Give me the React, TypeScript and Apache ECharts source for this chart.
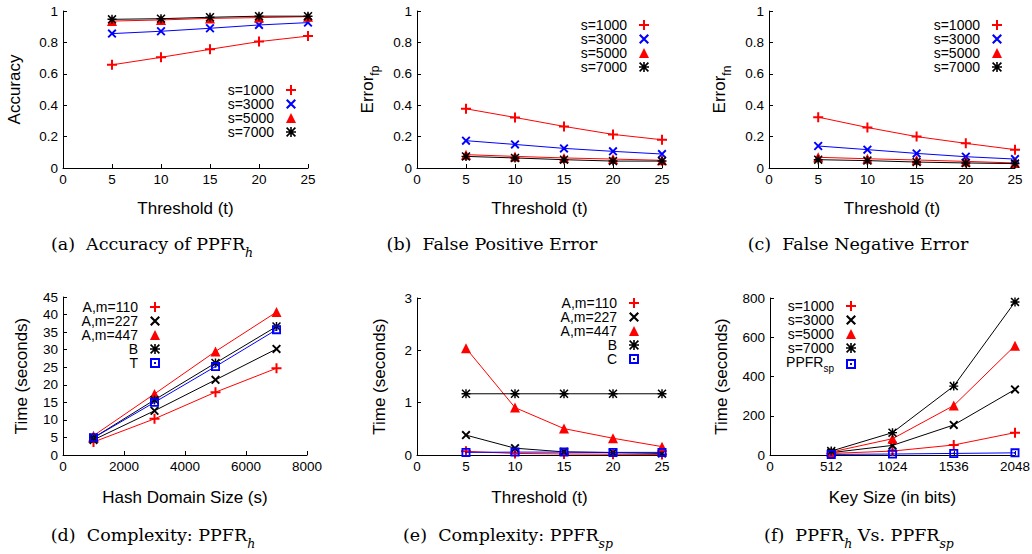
import React, { useEffect, useRef } from "react";
import * as echarts from "echarts";

// ---------- data ----------
const thresholds = [5, 10, 15, 20, 25];

const accS1000 = [0.657, 0.705, 0.756, 0.805, 0.84];
const accS3000 = [0.856, 0.871, 0.89, 0.911, 0.926];
const accS5000 = [0.936, 0.943, 0.953, 0.958, 0.964];
const accS7000 = [0.947, 0.951, 0.96, 0.967, 0.967];

const fpS1000 = [0.377, 0.322, 0.265, 0.214, 0.18];
const fpS3000 = [0.174, 0.15, 0.125, 0.106, 0.089];
const fpS5000 = [0.085, 0.074, 0.064, 0.057, 0.049];
const fpS7000 = [0.074, 0.064, 0.053, 0.044, 0.044];

const fnS1000 = [0.324, 0.258, 0.2, 0.157, 0.117];
const fnS3000 = [0.14, 0.117, 0.093, 0.072, 0.057];
const fnS5000 = [0.068, 0.059, 0.051, 0.042, 0.032];
const fnS7000 = [0.053, 0.047, 0.038, 0.032, 0.028];

const domainSizes = [1000, 3000, 5000, 7000];
const hA110 = [3.7, 10.3, 17.9, 24.7];
const hA227 = [4.3, 12.6, 21.4, 30.2];
const hA447 = [5.5, 17.4, 29.5, 40.7];
const hB = [4.9, 15.7, 26.2, 36.6];
const hT = [4.9, 15.0, 25.2, 35.7];

const spA110 = [0.07, 0.03, 0.02, 0.015, 0.01];
const spA227 = [0.38, 0.13, 0.06, 0.045, 0.03];
const spA447 = [2.04, 0.906, 0.504, 0.32, 0.16];
const spB = [1.17, 1.17, 1.17, 1.17, 1.17];
const spC = [0.05, 0.055, 0.055, 0.05, 0.05];

const keySizes = [512, 1024, 1536, 2048];
const kS1000 = [8, 20, 51, 114];
const kS3000 = [12, 49, 153, 334];
const kS5000 = [15, 83, 252, 557];
const kS7000 = [20, 114, 351, 780];
const kSP = [3, 5, 8, 11];

// ---------- styles ----------
const RED = "#ff0000";
const BLUE = "#0000ff";
const BLACK = "#000000";
const SANS = "Liberation Sans, Arial, sans-serif";
const SERIF = "DejaVu Serif, serif";

const SYM: Record<string, string> = {
  plus: "path://M4,0H6V4H10V6H6V10H4V6H0V4H4Z",
  cross: "path://M1.5,0L10,8.5L8.5,10L0,1.5ZM8.5,0L10,1.5L1.5,10L0,8.5Z",
  tri: "triangle",
  star:
    "path://M4.2,0H5.8V4.2H10V5.8H5.8V10H4.2V5.8H0V4.2H4.2ZM1.2,0L10,8.8L8.8,10L0,1.2ZM8.8,0L10,1.2L1.2,10L0,8.8Z",
  box: "path://M0,0H10V10H0ZM2,2V8H8V2ZM4,4H6V6H4Z",
};
const SYMSIZE: Record<string, number> = { plus: 10, cross: 9, tri: 10, star: 9, box: 9 };

type Def = { name: string; xs: number[]; ys: number[]; color: string; sym: string };

function makeSeries(panel: number, defs: Def[]) {
  return defs.map((d) => ({
    type: "line",
    name: d.name,
    xAxisIndex: panel,
    yAxisIndex: panel,
    data: d.xs.map((x, i) => [x, d.ys[i]]),
    symbol: SYM[d.sym],
    symbolSize: SYMSIZE[d.sym],
    lineStyle: { width: 1, color: d.color },
    itemStyle: { color: d.color, borderWidth: 0 },
    emphasis: { disabled: true },
  }));
}

function makeLegend(defs: Def[], right: number, top: number) {
  return {
    orient: "vertical",
    align: "right",
    right,
    top,
    padding: 0,
    itemGap: 0,
    itemWidth: 10,
    itemHeight: 10,
    selectedMode: false,
    itemStyle: { borderWidth: 0 },
    data: defs.map((d) => ({ name: d.name, icon: SYM[d.sym] })),
    formatter: (name: string) => {
      const t = name.slice(2);
      if (t === "PPFR_sp") return "{m|PPFR}{s|sp}";
      return t;
    },
    textStyle: {
      fontSize: 14,
      fontFamily: SANS,
      color: BLACK,
      padding: [0, 7, 0, 0],
      rich: {
        m: { fontSize: 14, fontFamily: SANS, color: BLACK, lineHeight: 18, verticalAlign: "top" },
        s: { fontSize: 10, fontFamily: SANS, color: BLACK, lineHeight: 10, verticalAlign: "bottom" },
      },
    },
  };
}

const plainNum = (v: number) => String(v);

const axisCommon = {
  axisLine: { show: true, onZero: false, lineStyle: { color: BLACK, width: 1 } },
  axisTick: { show: true, inside: true, length: 4, lineStyle: { color: BLACK, width: 1 } },
  splitLine: { show: false },
  nameLocation: "middle",
};

function xAx(panel: number, name: string, min: number, max: number, interval: number, gap: number) {
  return {
    ...axisCommon,
    type: "value",
    gridIndex: panel,
    min,
    max,
    interval,
    name,
    nameGap: gap,
    nameTextStyle: { fontSize: 17, fontFamily: SANS, color: BLACK },
    axisLabel: { fontSize: 13.5, fontFamily: SANS, color: BLACK, margin: 4, formatter: plainNum },
  };
}

function yAx(panel: number, name: string, min: number, max: number, interval: number, gap: number) {
  return {
    ...axisCommon,
    type: "value",
    gridIndex: panel,
    min,
    max,
    interval,
    name,
    nameGap: gap,
    nameTextStyle: {
      fontSize: 17,
      fontFamily: SANS,
      color: BLACK,
      rich: {
        m: { fontSize: 17, fontFamily: SANS, color: BLACK, lineHeight: 22, verticalAlign: "top" },
        s: { fontSize: 12, fontFamily: SANS, color: BLACK, lineHeight: 12, verticalAlign: "bottom" },
      },
    },
    axisLabel: { fontSize: 13.5, fontFamily: SANS, color: BLACK, margin: 5, formatter: plainNum },
  };
}

const captionRich = {
  m: { fontSize: 17.5, fontFamily: SERIF, fill: BLACK, lineHeight: 24, verticalAlign: "top" },
  s: { fontSize: 12.5, fontFamily: SERIF, fontStyle: "italic", fill: BLACK, lineHeight: 14, verticalAlign: "bottom" },
};

function caption(text: string, x: number, y: number) {
  return {
    type: "text",
    x,
    y,
    style: {
      text,
      align: "center",
      verticalAlign: "middle",
      fill: BLACK,
      rich: captionRich,
    },
  };
}

export default function App() {
  const ref = useRef<HTMLDivElement>(null);

  useEffect(() => {
    if (!ref.current) return;
    const chart = echarts.init(ref.current, null, { renderer: "svg" });

    const dA: Def[] = [
      { name: "a:s=1000", xs: thresholds, ys: accS1000, color: RED, sym: "plus" },
      { name: "a:s=3000", xs: thresholds, ys: accS3000, color: BLUE, sym: "cross" },
      { name: "a:s=5000", xs: thresholds, ys: accS5000, color: RED, sym: "tri" },
      { name: "a:s=7000", xs: thresholds, ys: accS7000, color: BLACK, sym: "star" },
    ];
    const dB: Def[] = [
      { name: "b:s=1000", xs: thresholds, ys: fpS1000, color: RED, sym: "plus" },
      { name: "b:s=3000", xs: thresholds, ys: fpS3000, color: BLUE, sym: "cross" },
      { name: "b:s=5000", xs: thresholds, ys: fpS5000, color: RED, sym: "tri" },
      { name: "b:s=7000", xs: thresholds, ys: fpS7000, color: BLACK, sym: "star" },
    ];
    const dC: Def[] = [
      { name: "c:s=1000", xs: thresholds, ys: fnS1000, color: RED, sym: "plus" },
      { name: "c:s=3000", xs: thresholds, ys: fnS3000, color: BLUE, sym: "cross" },
      { name: "c:s=5000", xs: thresholds, ys: fnS5000, color: RED, sym: "tri" },
      { name: "c:s=7000", xs: thresholds, ys: fnS7000, color: BLACK, sym: "star" },
    ];
    const dD: Def[] = [
      { name: "d:A,m=110", xs: domainSizes, ys: hA110, color: RED, sym: "plus" },
      { name: "d:A,m=227", xs: domainSizes, ys: hA227, color: BLACK, sym: "cross" },
      { name: "d:A,m=447", xs: domainSizes, ys: hA447, color: RED, sym: "tri" },
      { name: "d:B", xs: domainSizes, ys: hB, color: BLACK, sym: "star" },
      { name: "d:T", xs: domainSizes, ys: hT, color: BLUE, sym: "box" },
    ];
    const dE: Def[] = [
      { name: "e:A,m=110", xs: thresholds, ys: spA110, color: RED, sym: "plus" },
      { name: "e:A,m=227", xs: thresholds, ys: spA227, color: BLACK, sym: "cross" },
      { name: "e:A,m=447", xs: thresholds, ys: spA447, color: RED, sym: "tri" },
      { name: "e:B", xs: thresholds, ys: spB, color: BLACK, sym: "star" },
      { name: "e:C", xs: thresholds, ys: spC, color: BLUE, sym: "box" },
    ];
    const dF: Def[] = [
      { name: "f:s=1000", xs: keySizes, ys: kS1000, color: RED, sym: "plus" },
      { name: "f:s=3000", xs: keySizes, ys: kS3000, color: BLACK, sym: "cross" },
      { name: "f:s=5000", xs: keySizes, ys: kS5000, color: RED, sym: "tri" },
      { name: "f:s=7000", xs: keySizes, ys: kS7000, color: BLACK, sym: "star" },
      { name: "f:PPFR_sp", xs: keySizes, ys: kSP, color: BLUE, sym: "box" },
    ];

    const gridBase = { outerBoundsMode: "none", containLabel: false };

    chart.setOption({
      animation: false,
      backgroundColor: "#ffffff",
      grid: [
        { ...gridBase, left: 63, top: 11, width: 245, height: 157 },
        { ...gridBase, left: 417, top: 11, width: 245, height: 157 },
        { ...gridBase, left: 769, top: 11, width: 246, height: 157 },
        { ...gridBase, left: 63, top: 297, width: 244, height: 158 },
        { ...gridBase, left: 417, top: 298, width: 245, height: 157 },
        { ...gridBase, left: 770, top: 298, width: 245, height: 157 },
      ],
      xAxis: [
        xAx(0, "Threshold (t)", 0, 25, 5, 32),
        xAx(1, "Threshold (t)", 0, 25, 5, 32),
        xAx(2, "Threshold (t)", 0, 25, 5, 32),
        xAx(3, "Hash Domain Size (s)", 0, 8000, 2000, 34),
        xAx(4, "Threshold (t)", 0, 25, 5, 34),
        xAx(5, "Key Size (in bits)", 0, 2048, 512, 34),
      ],
      yAxis: [
        yAx(0, "Accuracy", 0, 1, 0.2, 40),
        yAx(1, "{m|Error}{s|fp}", 0, 1, 0.2, 36),
        yAx(2, "{m|Error}{s|fn}", 0, 1, 0.2, 36),
        yAx(3, "Time (seconds)", 0, 45, 5, 33),
        yAx(4, "Time (seconds)", 0, 3, 1, 29),
        yAx(5, "Time (seconds)", 0, 800, 200, 40),
      ],
      legend: [
        makeLegend(dA, 736, 83),
        makeLegend(dB, 383, 18),
        makeLegend(dC, 30, 18),
        makeLegend(dD, 872, 300),
        makeLegend(dE, 393, 296),
        makeLegend(dF, 176, 299),
      ],
      series: [
        ...makeSeries(0, dA),
        ...makeSeries(1, dB),
        ...makeSeries(2, dC),
        ...makeSeries(3, dD),
        ...makeSeries(4, dE),
        ...makeSeries(5, dF),
      ],
      graphic: [
        caption("{m|(a)  Accuracy of PPFR}{s|h}", 152, 247),
        caption("{m|(b)  False Positive Error}", 492, 247),
        caption("{m|(c)  False Negative Error}", 858, 247),
        caption("{m|(d)  Complexity: PPFR}{s|h}", 153, 538),
        caption("{m|(e)  Complexity: PPFR}{s|sp}", 508, 538),
        caption("{m|(f)  PPFR}{s|h}{m| Vs. PPFR}{s|sp}", 859, 538),
      ],
    });

    return () => chart.dispose();
  }, []);

  return (
    <div
      ref={ref}
      style={{ position: "absolute", left: 0, top: 0, width: 1032, height: 554, background: "#fff" }}
    />
  );
}
